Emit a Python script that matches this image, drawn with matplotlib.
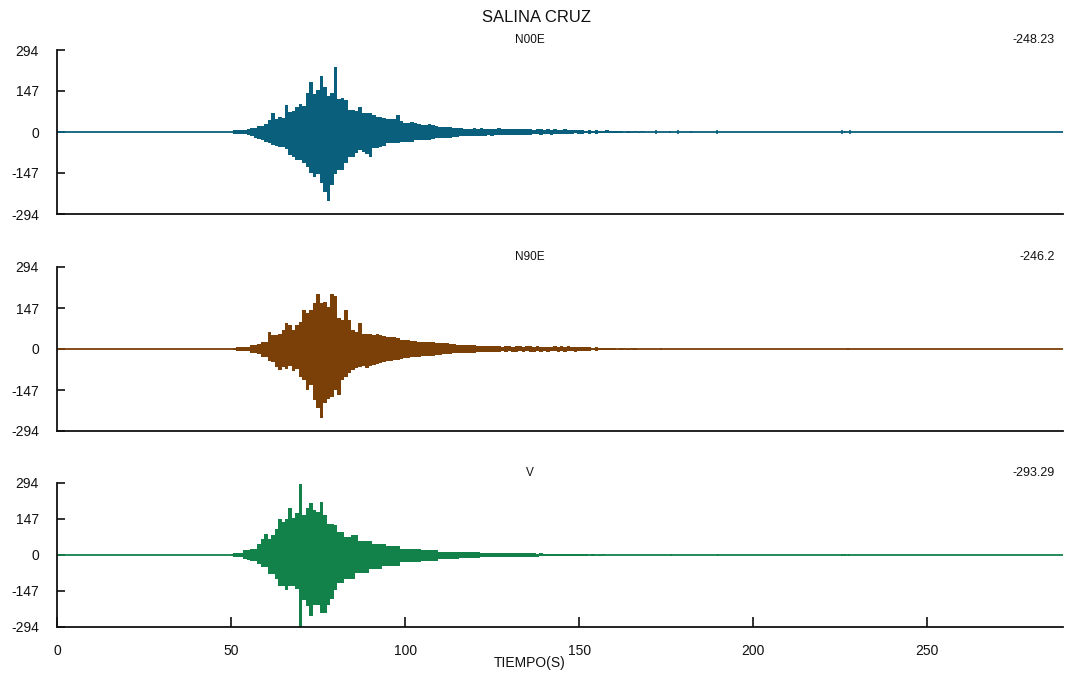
import numpy as np
import matplotlib
matplotlib.use("Agg")
import matplotlib.pyplot as plt

plt.rcParams['font.family'] = ['Liberation Sans Narrow', 'Liberation Sans', 'DejaVu Sans']

# envelope of each trace, one value per second starting at t0 (upper peak, lower peak as magnitude)
t0 = 50

n00e_up = [0, 6, 7, 6, 8, 12, 13, 16, 20, 22,
           30, 43, 67, 48, 52, 50, 97, 73, 75, 90,
           100, 95, 139, 180, 135, 150, 200, 160, 130, 140,
           232, 120, 121, 115, 79, 79, 75, 91, 67, 67,
           67, 60, 55, 55, 50, 45, 45, 45, 61, 40,
           33, 33, 35, 33, 30, 25, 25, 27, 25, 22,
           17, 17, 18, 17, 15, 15, 13, 12, 12, 11,
           13, 12, 14, 11, 12, 10, 11, 13, 10, 10,
           10, 9, 11, 9, 10, 10, 9, 8, 10, 9,
           8, 9, 8, 10, 7, 8, 9, 7, 8, 6,
           7, 6, 5, 7, 4, 6, 5, 3, 6, 3,
           2, 5, 2, 0, 5, 1, 3, 0, 4, 0]
n00e_lo = [0, 6, 6, 7, 8, 12, 14, 20, 25, 28,
           35, 40, 45, 50, 55, 52, 60, 82, 90, 100,
           100, 110, 125, 148, 160, 150, 184, 214, 248, 190,
           150, 136, 136, 110, 88, 88, 75, 65, 70, 80,
           88, 59, 59, 55, 50, 41, 41, 41, 41, 35,
           35, 35, 35, 30, 29, 29, 29, 29, 26, 23,
           23, 22, 22, 20, 18, 17, 16, 15, 15, 14,
           15, 14, 13, 14, 12, 13, 11, 12, 11, 10,
           11, 10, 9, 10, 9, 9, 10, 8, 8, 9,
           8, 8, 9, 7, 6, 8, 7, 6, 7, 5,
           6, 7, 5, 6, 4, 6, 3, 5, 3, 2,
           3, 2, 5, 0, 3, 2, 0, 3, 0, 2]

n90e_up = [0, 4, 6, 6, 6, 7, 14, 14, 18, 26,
           26, 62, 50, 50, 55, 68, 92, 86, 68, 86,
           98, 140, 130, 140, 164, 197, 165, 170, 150, 197,
           190, 110, 104, 140, 104, 68, 62, 92, 55, 52,
           55, 50, 52, 50, 48, 44, 44, 44, 40, 32,
           32, 33, 30, 28, 25, 25, 25, 26, 24, 22,
           20, 22, 20, 17, 17, 16, 15, 14, 14, 13,
           14, 12, 10, 9, 11, 9, 9, 10, 8, 9,
           9, 8, 11, 9, 8, 9, 10, 8, 9, 8,
           8, 7, 8, 9, 8, 9, 8, 9, 7, 8,
           8, 7, 6, 7, 5, 6, 4, 5, 2, 4,
           3, 0, 4, 2, 0, 3, 4, 0, 0, 0]
n90e_lo = [0, 5, 6, 6, 6, 7, 15, 16, 18, 27,
           30, 42, 45, 65, 75, 65, 70, 60, 80, 70,
           99, 110, 147, 130, 183, 213, 246, 195, 180, 171,
           147, 165, 111, 100, 87, 75, 69, 65, 62, 69,
           60, 57, 55, 50, 48, 44, 42, 40, 40, 36,
           33, 33, 30, 30, 28, 26, 25, 25, 24, 22,
           20, 18, 17, 17, 16, 16, 15, 14, 14, 14,
           15, 12, 11, 10, 10, 9, 10, 9, 8, 9,
           8, 9, 11, 8, 9, 8, 9, 10, 8, 9,
           7, 9, 8, 7, 9, 8, 9, 8, 8, 9,
           7, 8, 6, 7, 4, 6, 5, 3, 4, 2,
           4, 0, 3, 0, 2, 0, 3, 0, 0, 0]

v_up = [4, 8, 8, 8, 22, 22, 25, 25, 45, 66,
        87, 66, 80, 108, 149, 135, 149, 190, 150, 170,
        290, 163, 190, 211, 183, 175, 218, 163, 125, 125,
        121, 94, 94, 73, 73, 80, 80, 59, 59, 59,
        59, 45, 45, 45, 45, 38, 38, 38, 38, 25,
        25, 25, 25, 25, 25, 22, 22, 22, 22, 22,
        14, 14, 14, 14, 14, 14, 12, 12, 12, 12,
        12, 12, 9, 9, 10, 9, 8, 9, 9, 8,
        9, 8, 9, 7, 7, 8, 7, 7, 6, 7,
        6, 5, 6, 5, 6, 6, 5, 6, 5, 6,
        5, 4, 4, 0, 4, 2, 0, 3, 2, 0,
        0, 0, 0, 0, 0, 0, 0, 0, 0, 0]
v_lo = [4, 10, 10, 10, 17, 20, 23, 23, 37, 51,
        51, 79, 79, 100, 127, 127, 141, 127, 127, 140,
        293, 182, 210, 251, 203, 203, 237, 237, 203, 180,
        141, 113, 113, 99, 99, 99, 72, 72, 72, 72,
        58, 58, 58, 58, 44, 44, 44, 44, 44, 30,
        30, 30, 30, 30, 30, 23, 23, 23, 23, 23,
        17, 17, 17, 17, 17, 17, 14, 14, 13, 13,
        12, 12, 9, 9, 9, 10, 9, 8, 9, 9,
        8, 9, 8, 7, 7, 7, 8, 7, 7, 6,
        6, 6, 5, 6, 5, 6, 6, 5, 6, 5,
        4, 5, 3, 0, 4, 0, 3, 0, 2, 0,
        0, 0, 0, 0, 0, 0, 0, 0, 0, 0]

# isolated late arrivals
n00e_spike_t = [172.0, 176.0, 178.5, 182.0, 189.6, 225.5, 226.5, 227.9]
n00e_spike_a = [6, 5, 6, 5, 7, 8, 4, 8]
n90e_spike_t = [173.6, 227.3]
n90e_spike_a = [5, 4]
v_spike_t = [176.5, 189.9, 225.5, 226.5, 227.5]
v_spike_a = [4, 4, 6, 3, 6]

names = ["N00E", "N90E", "V"]
peaks = ["-248.23", "-246.2", "-293.29"]
colors = ["#0a5f7d", "#7b3f08", "#12824a"]
xticks = [0, 50, 100, 150, 200, 250]
yticks = [294, 147, 0, -147, -294]

traces = [(n00e_up, n00e_lo, n00e_spike_t, n00e_spike_a),
          (n90e_up, n90e_lo, n90e_spike_t, n90e_spike_a),
          (v_up, v_lo, v_spike_t, v_spike_a)]

fig = plt.figure(figsize=(10.65, 7.0), dpi=100)
W, H = 1065, 700
# pixel boxes of the three panels: top, bottom
boxes = [(50, 214), (267, 431), (483, 627)]
left, right = 57, 1063
ink = '#111111'

for i, (top, bot) in enumerate(boxes):
    ax = fig.add_axes([left / W, 1 - bot / H, (right - left) / W, (bot - top) / H])
    up, lo, st, sa = traces[i]
    t = t0 + np.arange(len(up))
    ax.fill_between(t, -np.array(lo), np.array(up), step='mid', color=colors[i], lw=0)
    ax.vlines(st, -np.array(sa), np.array(sa), color=colors[i], lw=1.2)
    ax.axhline(0, color=colors[i], lw=1.3)
    ax.set_xlim(0, 289)
    ax.set_ylim(-294, 294)
    ax.set_yticks(yticks)
    ax.set_yticklabels([str(v) for v in yticks])
    ax.spines['top'].set_visible(False)
    ax.spines['right'].set_visible(False)
    for s in ['left', 'bottom']:
        ax.spines[s].set_linewidth(1.3)
        ax.spines[s].set_color(ink)
    ax.tick_params(axis='y', direction='in', length=6, width=1.2, pad=13,
                   labelsize=10, colors=ink)
    if i < 2:
        ax.set_xticks([])
    else:
        ax.set_xticks(xticks)
        ax.tick_params(axis='x', direction='in', length=7, width=1.2, pad=12,
                       labelsize=10, colors=ink)
    fig.text(530 / W, 1 - (top - 10) / H, names[i], ha='center', va='center',
             fontsize=8.5, color=ink)
    fig.text(1055 / W, 1 - (top - 10) / H, peaks[i], ha='right', va='center',
             fontsize=9, color=ink)

fig.text(537 / W, 1 - 18 / H, "SALINA CRUZ", ha='center', va='center',
         fontsize=12, color=ink)
fig.text(530 / W, 1 - 663 / H, "TIEMPO(S)", ha='center', va='center',
         fontsize=10, color=ink)

fig.savefig("out.png", dpi=100)
